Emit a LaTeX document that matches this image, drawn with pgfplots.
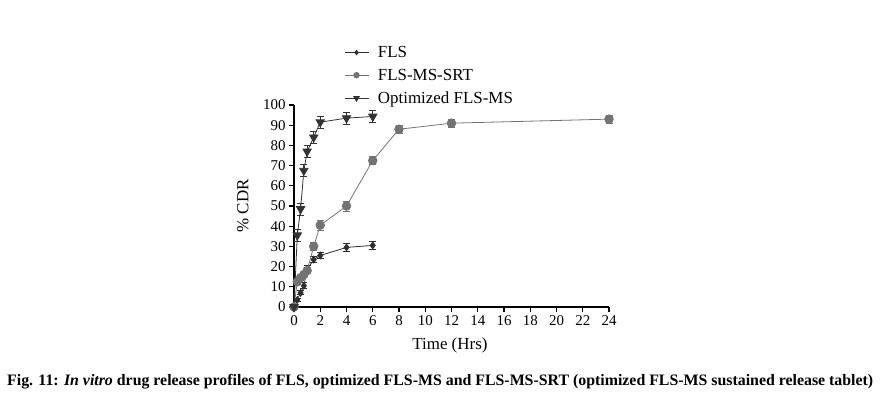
\documentclass[border=0pt]{standalone}
\usepackage{fontspec}
\setmainfont{Liberation Serif}
\usepackage{pgfplots}
\usepackage{graphicx}
\pgfplotsset{compat=1.18}
\definecolor{cfls}{HTML}{2E2E2E}
\definecolor{csrt}{HTML}{737373}
\definecolor{copt}{HTML}{333333}
\begin{document}
\begin{tikzpicture}[x=1bp,y=1bp]
\path[use as bounding box] (0,0) rectangle (880,394);
\begin{axis}[
  at={(294bp,87bp)}, anchor=south west,
  scale only axis, width=315bp, height=202bp,
  xmin=0, xmax=24, ymin=0, ymax=100,
  axis x line*=bottom, axis y line*=left,
  axis line style={line width=1.3pt, black},
  tick align=outside, major tick length=5bp,
  tick style={line width=1.3pt, black},
  xtick={0,2,...,24}, ytick={0,10,...,100},
  tick label style={font=\fontsize{15}{17}\selectfont},
  /pgf/number format/assume math mode=true,
  xlabel={Time (Hrs)}, ylabel={\% CDR},
  label style={font=\fontsize{17}{20}\selectfont},
  xlabel style={at={(0.495,0)}, anchor=north, yshift=-27bp},
  ylabel style={at={(0,0.5)}, anchor=south, yshift=42bp},
  clip=false,
  legend style={at={(0.149,1.312)}, anchor=north west, draw=none, fill=none,
    font=\fontsize{17}{20}\selectfont, row sep=6bp,
    /tikz/every odd column/.append style={column sep=7bp}},
  legend cell align=left,
  legend image code/.code={\draw[mark repeat=2,mark phase=2,#1,
    every mark/.append style={scale=0.65}]
    plot coordinates {(0bp,0bp)(12bp,0bp)(24bp,0bp)};},
  error bars/error bar style={line width=0.8pt},
  error bars/error mark options={rotate=90, mark size=3.5bp, line width=0.8pt},
]
\addplot[color=cfls, line width=0.8pt, mark=diamond*, mark size=3.4bp,
  error bars/.cd, y dir=both, y explicit]
  table[x=t, y=c, y error=e] {
t c e
0 0 0.5
0.25 3.5 0.8
0.5 7 1
0.75 10.5 1.5
1 18.5 2
1.5 23.5 1.5
2 25.5 1.5
4 29.5 1.8
6 30.5 2
};
\addlegendentry{FLS}
\addplot[color=csrt, line width=0.8pt, mark=*, mark size=4.3bp,
  error bars/.cd, y dir=both, y explicit]
  table[x=t, y=c, y error=e] {
t c e
0 0 0.5
0.25 12.5 1
0.5 14.5 1
0.75 16 1.2
1 18 1.5
1.5 30 2
2 40.5 2.5
4 50 2.5
6 72.5 2
8 88 2
12 91 2
24 93 2
};
\addlegendentry{FLS-MS-SRT}
\addplot[color=copt, line width=0.8pt, mark=triangle*, mark size=4.8bp,
  mark options={rotate=180},
  error bars/.cd, y dir=both, y explicit]
  table[x=t, y=c, y error=e] {
t c e
0 0 0.5
0.25 35.5 3
0.5 48.5 3
0.75 67.5 3
1 77 3
1.5 84 3
2 91.5 3
4 93.5 3
6 94.3 3
};
\addlegendentry{Optimized FLS-MS}
\end{axis}
\node[anchor=base west, inner sep=0pt] at (7,9) {\resizebox{866bp}{\height}{\fontsize{16}{18}\selectfont\bfseries Fig. 11: \textit{In vitro} drug release profiles of FLS, optimized FLS-MS and FLS-MS-SRT (optimized FLS-MS sustained release tablet)}};
\end{tikzpicture}
\end{document}
